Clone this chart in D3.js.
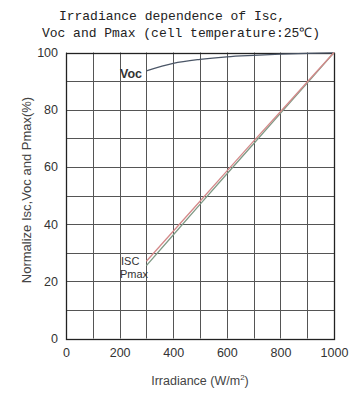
<!DOCTYPE html>
<html>
<head>
<meta charset="utf-8">
<script src="https://cdn.jsdelivr.net/npm/d3@7"></script>
<style>
  body { margin: 0; background: #fff; }
  svg { display: block; }
</style>
</head>
<body>
<svg id="chart"></svg>
<script>
// values
var irradiance = [300, 400, 500, 600, 700, 800, 900, 1000];
var vocValues  = [93.6, 96.2, 97.6, 98.5, 99.0, 99.4, 99.7, 99.9];
var iscValues  = [27.0, 37.5, 48.0, 58.5, 69.0, 79.3, 89.7, 100];
var pmaxValues = [25.5, 36.2, 46.9, 57.5, 68.1, 78.7, 89.3, 100];
var xTicks = [0, 200, 400, 600, 800, 1000];
var yTicks = [0, 20, 40, 60, 80, 100];
var xGrid = d3.range(0, 1001, 100);
var yGrid = d3.range(0, 101, 10);

var width = 361, height = 398;
var padding = {left: 66, right: 27, top: 52.5, bottom: 59.5};

var svg = d3.select('#chart').attr('width', width).attr('height', height);

var xScale = d3.scaleLinear().domain([0, 1000]).range([padding.left, width - padding.right]);
var yScale = d3.scaleLinear().domain([0, 100]).range([height - padding.bottom, padding.top]);

// grid
var grid = svg.append('g').attr('class', 'grid');
grid.selectAll('line.v').data(xGrid).enter().append('line')
  .attr('x1', function(d) { return Math.round(xScale(d)) + 0.5; })
  .attr('x2', function(d) { return Math.round(xScale(d)) + 0.5; })
  .attr('y1', yScale(0)).attr('y2', yScale(100))
  .attr('stroke', '#555').attr('stroke-width', 1);
grid.selectAll('line.h').data(yGrid).enter().append('line')
  .attr('y1', function(d) { return Math.round(yScale(d)) + 0.5; })
  .attr('y2', function(d) { return Math.round(yScale(d)) + 0.5; })
  .attr('x1', xScale(0)).attr('x2', xScale(1000))
  .attr('stroke', '#555').attr('stroke-width', 1);

// frame
svg.append('rect')
  .attr('x', Math.round(xScale(0)) + 0.5).attr('y', Math.round(yScale(100)) + 0.5)
  .attr('width', Math.round(xScale(1000)) - Math.round(xScale(0)))
  .attr('height', Math.round(yScale(0)) - Math.round(yScale(100)))
  .attr('fill', 'none').attr('stroke', '#222').attr('stroke-width', 1.3);

// axes (labels only)
var xAxis = svg.append('g')
  .attr('transform', 'translate(0,' + (yScale(0) + 4) + ')')
  .call(d3.axisBottom(xScale).tickValues(xTicks).tickFormat(d3.format('d')).tickSize(0).tickPadding(6));
var yAxis = svg.append('g')
  .attr('transform', 'translate(' + (xScale(0) - 8) + ',0)')
  .call(d3.axisLeft(yScale).tickValues(yTicks).tickFormat(d3.format('d')).tickSize(0).tickPadding(0));
[xAxis, yAxis].forEach(function(a) {
  a.select('.domain').remove();
  a.selectAll('text')
    .attr('font-family', 'Liberation Sans, Arial, sans-serif')
    .attr('font-size', 12.5).attr('fill', '#333');
});

// lines
var line = function(vals) {
  return d3.line()
    .x(function(d, i) { return xScale(irradiance[i]); })
    .y(function(d) { return yScale(d); })(vals);
};
var vocLine = d3.line().curve(d3.curveMonotoneX)
  .x(function(d, i) { return xScale(irradiance[i]); })
  .y(function(d) { return yScale(d); });

svg.append('path').attr('d', vocLine(vocValues))
  .attr('fill', 'none').attr('stroke', '#4a5566').attr('stroke-width', 1.3);
svg.append('path').attr('d', line(pmaxValues))
  .attr('fill', 'none').attr('stroke', '#7f9a86').attr('stroke-width', 1.3);
svg.append('path').attr('d', line(iscValues))
  .attr('fill', 'none').attr('stroke', '#d48a8a').attr('stroke-width', 1.3);

// line labels
var labelFont = 'Liberation Sans, Arial, sans-serif';
svg.append('text').attr('x', 120).attr('y', 78).text('Voc')
  .attr('font-family', labelFont).attr('font-size', 12.5).attr('font-weight', 'bold')
  .attr('fill', '#333');
svg.append('text').attr('x', 121).attr('y', 264.5).text('ISC')
  .attr('font-family', labelFont).attr('font-size', 11).attr('fill', '#333');
svg.append('text').attr('x', 120).attr('y', 278).text('Pmax')
  .attr('font-family', labelFont).attr('font-size', 11).attr('fill', '#333');

// titles
var titleFont = 'Liberation Mono, DejaVu Sans Mono, monospace';
svg.append('text').attr('x', 172).attr('y', 20).attr('text-anchor', 'middle')
  .attr('font-family', titleFont).attr('font-size', 13).attr('fill', '#222')
  .text('Irradiance dependence of Isc,');
svg.append('text').attr('x', 181).attr('y', 37).attr('text-anchor', 'middle')
  .attr('font-family', titleFont).attr('font-size', 13).attr('fill', '#222')
  .text('Voc and Pmax (cell temperature:25\u2103)');

svg.append('text')
  .attr('transform', 'translate(31,' + 190 + ') rotate(-90)')
  .attr('text-anchor', 'middle')
  .attr('font-family', labelFont).attr('font-size', 13).attr('fill', '#444')
  .text('Normalize Isc,Voc and Pmax(%)');

var xTitle = svg.append('text').attr('x', 200).attr('y', 385).attr('text-anchor', 'middle')
  .attr('font-family', labelFont).attr('font-size', 12.5).attr('fill', '#444');
xTitle.append('tspan').text('Irradiance (W/m');
xTitle.append('tspan').attr('font-size', 8).attr('dy', -5).text('2');
xTitle.append('tspan').attr('dy', 5).text(')');
</script>
</body>
</html>
